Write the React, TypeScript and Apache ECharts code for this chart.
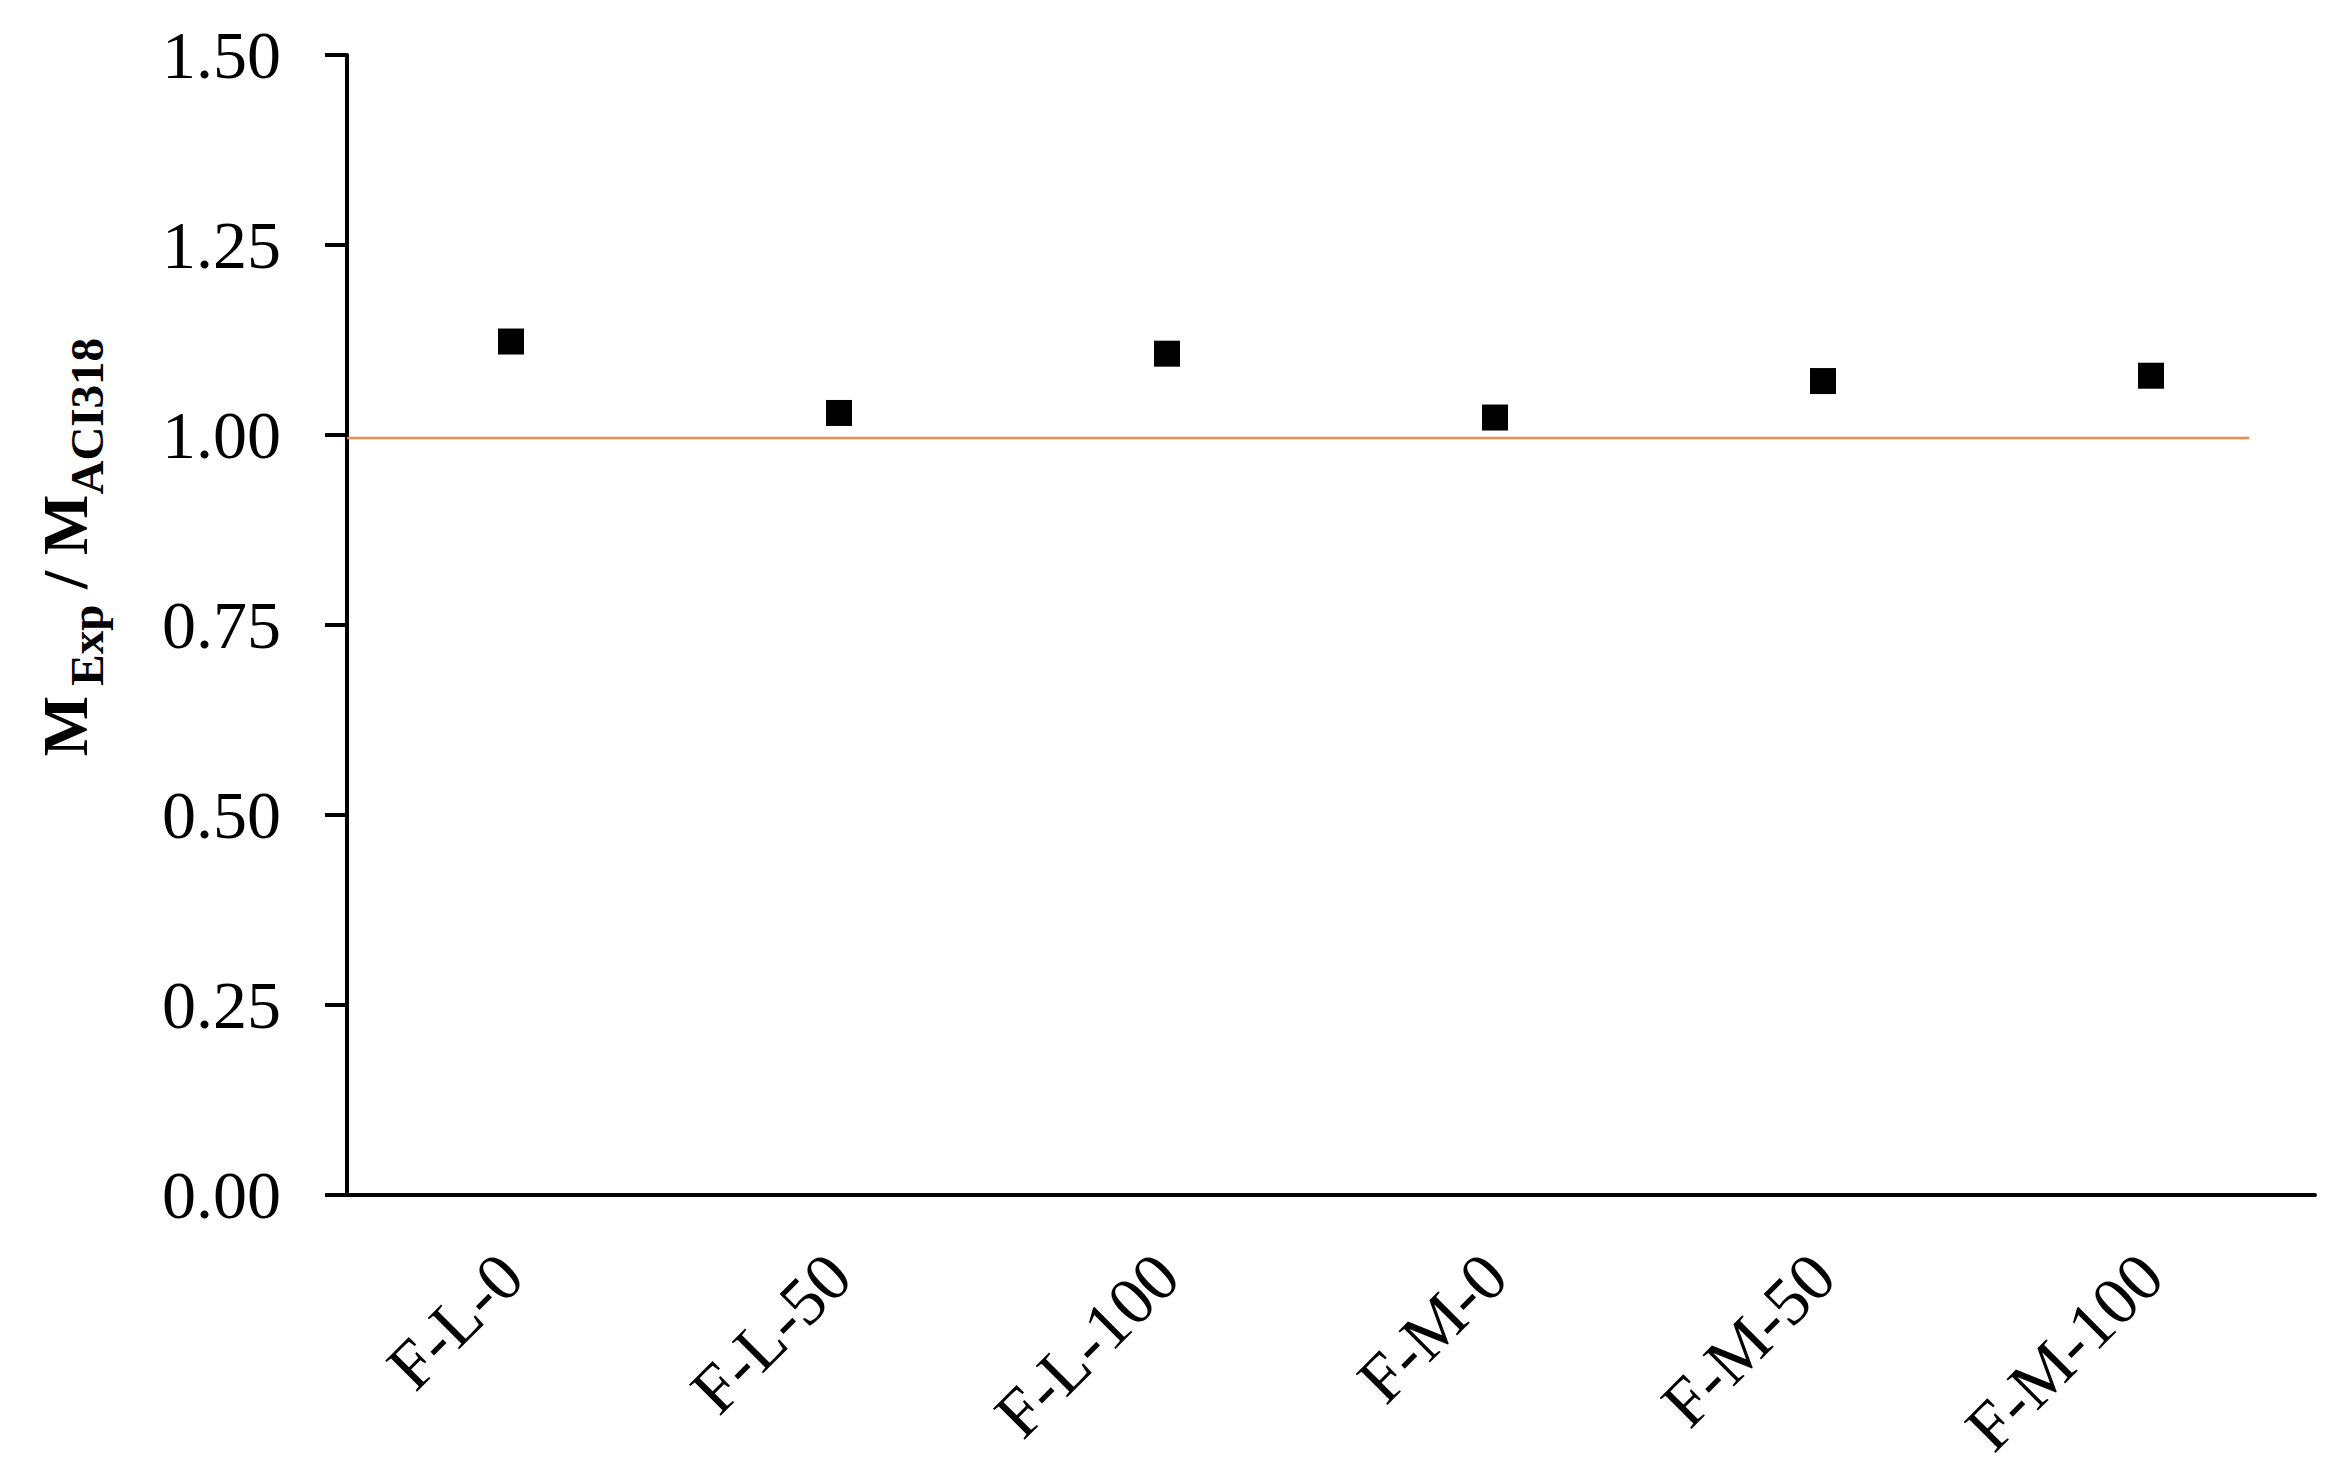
import React, { useEffect, useRef } from "react";
import * as echarts from "echarts";

const categories = ["F-L-0", "F-L-50", "F-L-100", "F-M-0", "F-M-50", "F-M-100"];
const ratioValues = [1.123, 1.029, 1.107, 1.023, 1.071, 1.078];
const refLine: [number, number][] = [
  [0, 0.996],
  [5.8, 0.996],
];
const yTicks = { min: 0, max: 1.5, interval: 0.25 };

const FONT = "'Liberation Serif', 'Times New Roman', serif";

export default function App() {
  const ref = useRef<HTMLDivElement>(null);
  useEffect(() => {
    if (!ref.current) return;
    const chart = echarts.init(ref.current, null, { renderer: "svg" });
    chart.setOption({
      animation: false,
      backgroundColor: "#ffffff",
      grid: { left: 347, top: 55, right: 26, bottom: 288, containLabel: false },
      xAxis: [
        {
          type: "category",
          data: categories,
          boundaryGap: true,
          axisLine: { show: true, lineStyle: { color: "#000", width: 4 } },
          axisTick: { show: false },
          axisLabel: {
            interval: 0,
            rotate: 45,
            margin: 70,
            fontFamily: FONT,
            fontSize: 68,
            color: "#000",
          },
          splitLine: { show: false },
        },
        {
          type: "value",
          min: 0,
          max: 6,
          show: false,
          position: "bottom",
        },
      ],
      yAxis: {
        type: "value",
        min: yTicks.min,
        max: yTicks.max,
        interval: yTicks.interval,
        axisLine: { show: true, lineStyle: { color: "#000", width: 4 } },
        axisTick: { show: true, inside: false, length: 22, lineStyle: { color: "#000", width: 4 } },
        axisLabel: {
          margin: 66,
          fontFamily: FONT,
          fontSize: 68,
          color: "#000",
          formatter: (v: number) => v.toFixed(2),
        },
        splitLine: { show: false },
      },
      graphic: [
        {
          type: "text",
          x: 65,
          y: 547,
          rotation: Math.PI / 2,
          style: {
            text: "{m|M}{s1|Exp}{m| / M}{s|ACI318}",
            align: "center",
            verticalAlign: "middle",
            fill: "#000",
            rich: {
              m: {
                fontFamily: FONT,
                fontWeight: "bold",
                fontSize: 64,
                lineHeight: 64,
                verticalAlign: "top",
                fill: "#000",
              },
              s1: {
                fontFamily: FONT,
                fontWeight: "bold",
                fontSize: 47,
                lineHeight: 47,
                verticalAlign: "top",
                padding: [30, 0, 0, 10],
                fill: "#000",
              },
              s: {
                fontFamily: FONT,
                fontWeight: "bold",
                fontSize: 47,
                lineHeight: 47,
                verticalAlign: "top",
                padding: [30, 0, 0, 0],
                fill: "#000",
              },
            },
          },
        },
      ],
      series: [
        {
          type: "line",
          xAxisIndex: 1,
          data: refLine,
          symbol: "none",
          lineStyle: { color: "#F08A4B", width: 2.5 },
          z: 1,
        },
        {
          type: "scatter",
          xAxisIndex: 0,
          data: ratioValues,
          symbol: "rect",
          symbolSize: 26,
          itemStyle: { color: "#000", opacity: 1 },
          z: 3,
        },
      ],
    });
    return () => chart.dispose();
  }, []);
  return (
    <div
      ref={ref}
      style={{ position: "absolute", left: 0, top: 0, width: 2341, height: 1483 }}
    />
  );
}
